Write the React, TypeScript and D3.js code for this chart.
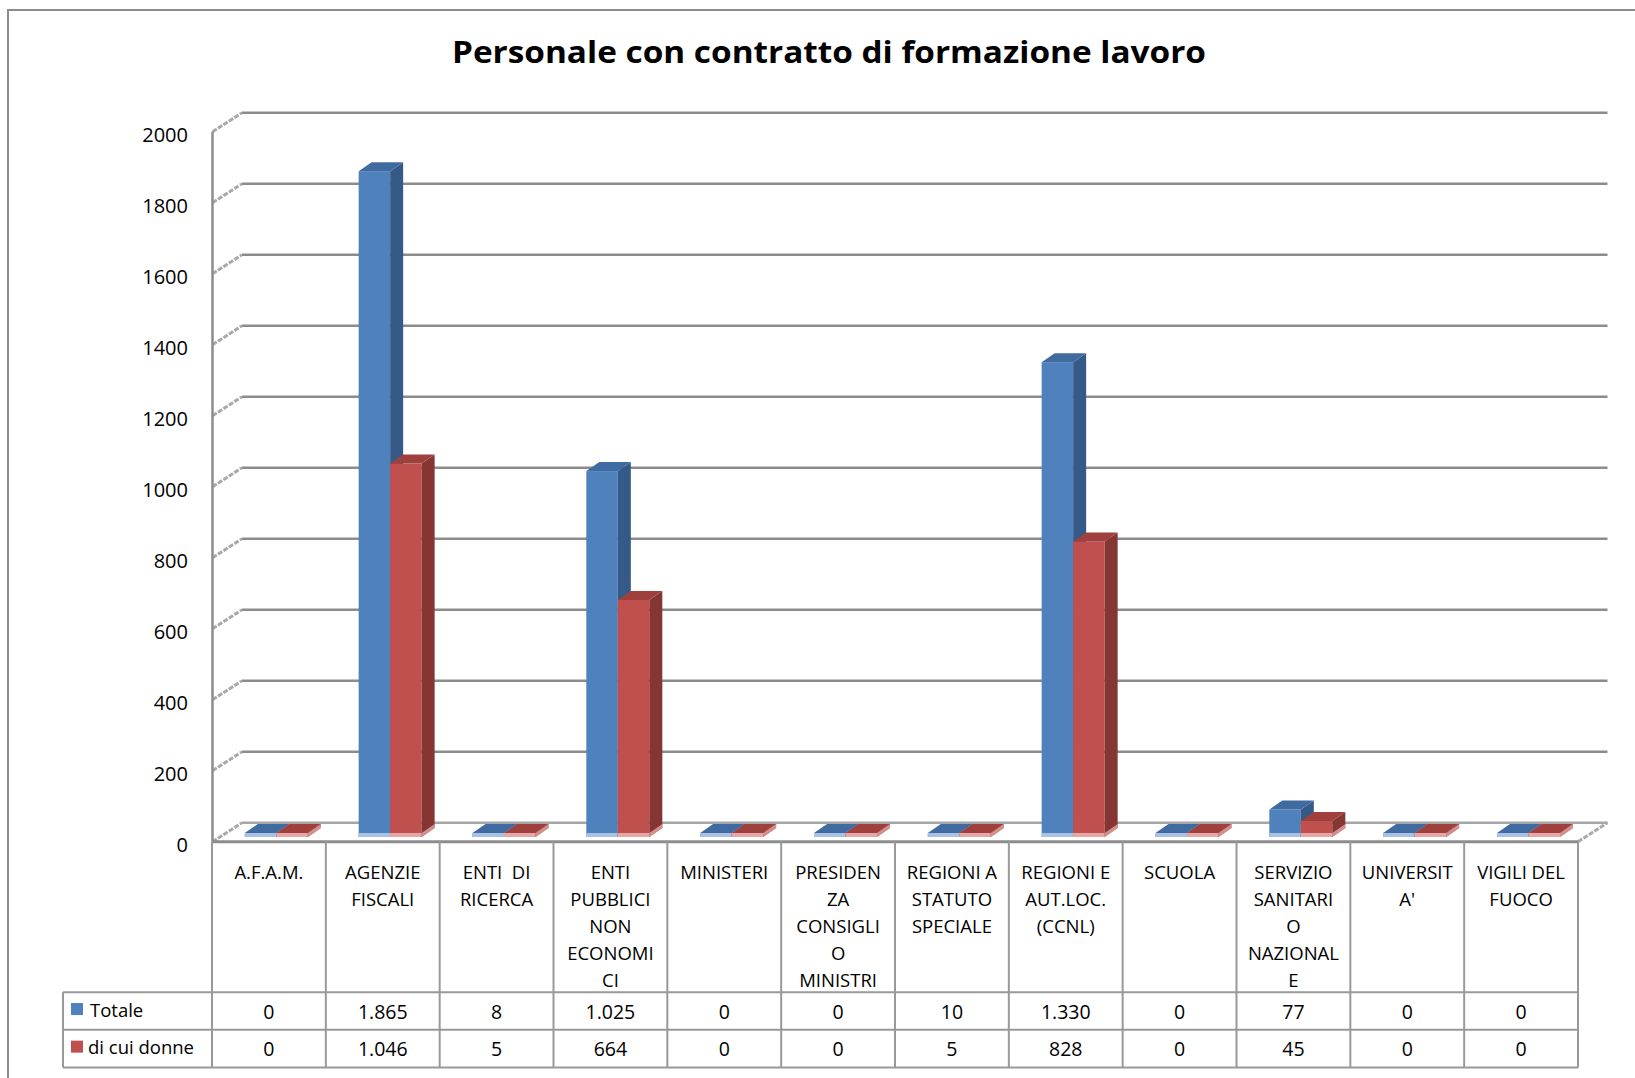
import React, { useEffect, useRef } from 'react'
import * as d3 from 'd3'

const categories = [
  'A.F.A.M.',
  'AGENZIE FISCALI',
  'ENTI DI RICERCA',
  'ENTI PUBBLICI NON ECONOMICI',
  'MINISTERI',
  'PRESIDENZA CONSIGLIO MINISTRI',
  'REGIONI A STATUTO SPECIALE',
  'REGIONI E AUT.LOC. (CCNL)',
  'SCUOLA',
  'SERVIZIO SANITARIO NAZIONALE',
  "UNIVERSITA'",
  'VIGILI DEL FUOCO'
]

// wrapped as in the original table header
const categoryLines = [
  ['A.F.A.M.'],
  ['AGENZIE', 'FISCALI'],
  ['ENTI  DI', 'RICERCA'],
  ['ENTI', 'PUBBLICI', 'NON', 'ECONOMI', 'CI'],
  ['MINISTERI'],
  ['PRESIDEN', 'ZA', 'CONSIGLI', 'O', 'MINISTRI'],
  ['REGIONI A', 'STATUTO', 'SPECIALE'],
  ['REGIONI E', 'AUT.LOC.', '(CCNL)'],
  ['SCUOLA'],
  ['SERVIZIO', 'SANITARI', 'O', 'NAZIONAL', 'E'],
  ['UNIVERSIT', "A'"],
  ['VIGILI DEL', 'FUOCO']
]

const totale = [0, 1865, 8, 1025, 0, 0, 10, 1330, 0, 77, 0, 0]
const donne = [0, 1046, 5, 664, 0, 0, 5, 828, 0, 45, 0, 0]
const seriesNames = ['Totale', 'di cui donne']
const yTicks = [0, 200, 400, 600, 800, 1000, 1200, 1400, 1600, 1800, 2000]

const palette = [
  { front: '#4f81bd', top: '#3f6ba1', side: '#365a87', light: '#a9c2e3' },
  { front: '#c0504d', top: '#a0403d', side: '#853532', light: '#e6a8a6' }
]

const itFormat = d3.formatLocale({ decimal: ',', thousands: '.', grouping: [3], currency: ['€', ''] }).format(',')

const App: React.FC = () => {
  const ref = useRef<SVGSVGElement | null>(null)

  useEffect(() => {
    if (!ref.current) {
      return
    }
    const width = 1635
    const height = 1078
    const svg = d3.select(ref.current)
    svg.attr('viewBox', `0 0 ${width} ${height}`)
    svg.selectAll('*').remove()

    const font = "'Open Sans', sans-serif"
    const gridColor = '#8c8c8c'
    const depth = { dx: 29.5, dy: -19 }
    const barDepth = { dx: 13, dy: -9 }
    const frontShift = 7.4

    const xScale = d3.scaleBand().domain(categories).range([212, 1578])
    const yAxis = d3.scaleLinear().domain([0, 2000]).range([841.7, 131.7])
    const yBar = d3.scaleLinear().domain([0, 2000]).range([837, 123])
    const seriesScale = d3.scaleBand().domain(seriesNames).range([-31.5, 31.5])
    const axisX = xScale.range()[0] + 0.5
    const wallRight = xScale.range()[1] + depth.dx

    // outer border
    svg
      .append('path')
      .attr('d', `M8,${height} L8,10 L${width},10`)
      .attr('fill', 'none')
      .attr('stroke', '#8c8c8c')
      .attr('stroke-width', 2)

    svg
      .append('text')
      .attr('x', 829)
      .attr('y', 63)
      .attr('text-anchor', 'middle')
      .attr('font-family', font)
      .attr('font-weight', 700)
      .attr('font-size', 31)
      .attr('textLength', 754)
      .attr('lengthAdjust', 'spacingAndGlyphs')
      .attr('fill', '#000')
      .text('Personale con contratto di formazione lavoro')

    // back wall gridlines + side wall ticks
    const grid = svg.append('g')
    yTicks.forEach((t) => {
      const y = yAxis(t)
      grid
        .append('line')
        .attr('x1', axisX)
        .attr('y1', y)
        .attr('x2', axisX + depth.dx)
        .attr('y2', y + depth.dy)
        .attr('stroke', '#a9a9a9')
        .attr('stroke-width', 3)
        .attr('stroke-dasharray', '5 1.5')
      grid
        .append('line')
        .attr('x1', axisX + depth.dx)
        .attr('y1', y + depth.dy)
        .attr('x2', wallRight)
        .attr('y2', y + depth.dy)
        .attr('stroke', t === 0 ? '#a6a6a6' : gridColor)
        .attr('stroke-width', 2.5)
      grid
        .append('text')
        .attr('x', 188)
        .attr('y', y + 3)
        .attr('text-anchor', 'end')
        .attr('dominant-baseline', 'central')
        .attr('font-family', font)
        .attr('font-size', 20)
        .attr('fill', '#000')
        .text(t)
    })

    // floor right edge
    const x1 = xScale.range()[1]
    grid
      .append('line')
      .attr('x1', x1)
      .attr('y1', yAxis(0))
      .attr('x2', x1 + depth.dx)
      .attr('y2', yAxis(0) + depth.dy)
      .attr('stroke', '#a9a9a9')
      .attr('stroke-width', 3)
      .attr('stroke-dasharray', '5 1.5')

    // vertical axis
    grid
      .append('line')
      .attr('x1', axisX)
      .attr('y1', yAxis(2000))
      .attr('x2', axisX)
      .attr('y2', yAxis(0))
      .attr('stroke', gridColor)
      .attr('stroke-width', 2.5)

    // bars
    const bars = svg.append('g')
    const seriesValues = [totale, donne]
    categories.forEach((cat, i) => {
      const cx = (xScale(cat) ?? 0) + xScale.bandwidth() / 2 + frontShift
      seriesNames.forEach((name, s) => {
        const v = seriesValues[s][i]
        const c = palette[s]
        const w = seriesScale.bandwidth()
        const bx = cx + (seriesScale(name) ?? 0)
        const base = yBar(0)
        const top = Math.min(yBar(v), base - 4)
        const { dx, dy } = barDepth

        bars
          .append('rect')
          .attr('x', bx)
          .attr('y', top)
          .attr('width', w)
          .attr('height', base - top)
          .attr('fill', c.front)
        bars
          .append('rect')
          .attr('x', bx)
          .attr('y', base - 4)
          .attr('width', w)
          .attr('height', 4)
          .attr('fill', c.light)
        bars
          .append('polygon')
          .attr('points', `${bx + w},${top} ${bx + w + dx},${top + dy} ${bx + w + dx},${base + dy} ${bx + w},${base}`)
          .attr('fill', c.side)
        bars
          .append('polygon')
          .attr('points', `${bx + w},${base - 4} ${bx + w + dx},${base - 4 + dy} ${bx + w + dx},${base + dy} ${bx + w},${base}`)
          .attr('fill', c.light)
          .attr('opacity', 0.8)
        bars
          .append('polygon')
          .attr('points', `${bx},${top} ${bx + dx},${top + dy} ${bx + w + dx},${top + dy} ${bx + w},${top}`)
          .attr('fill', c.top)
      })
    })

    // data table
    const table = svg.append('g')
    const tableColor = '#999'
    const headerTop = yAxis(0)
    const rowTops = [992.3, 1029.8, 1067.5]
    const legendLeft = 63

    table
      .append('line')
      .attr('x1', axisX)
      .attr('y1', headerTop)
      .attr('x2', x1)
      .attr('y2', headerTop)
      .attr('stroke', gridColor)
      .attr('stroke-width', 3)

    rowTops.forEach((y) => {
      table
        .append('line')
        .attr('x1', legendLeft)
        .attr('y1', y)
        .attr('x2', x1)
        .attr('y2', y)
        .attr('stroke', tableColor)
        .attr('stroke-width', 2)
    })

    const colEdges = categories.map((cat) => xScale(cat) ?? 0).concat([x1])
    colEdges.forEach((x) => {
      table
        .append('line')
        .attr('x1', x)
        .attr('y1', headerTop)
        .attr('x2', x)
        .attr('y2', rowTops[2])
        .attr('stroke', tableColor)
        .attr('stroke-width', 2)
    })
    table
      .append('line')
      .attr('x1', legendLeft)
      .attr('y1', rowTops[0])
      .attr('x2', legendLeft)
      .attr('y2', rowTops[2])
      .attr('stroke', tableColor)
      .attr('stroke-width', 2)

    categories.forEach((cat, i) => {
      const cx = (xScale(cat) ?? 0) + xScale.bandwidth() / 2
      categoryLines[i].forEach((line, k) => {
        table
          .append('text')
          .attr('x', cx)
          .attr('y', 871.7 + k * 26.9)
          .attr('text-anchor', 'middle')
          .attr('dominant-baseline', 'central')
          .attr('font-family', font)
          .attr('font-size', 18.5)
          .attr('fill', '#000')
          .style('white-space', 'pre')
          .text(line)
      })
      seriesValues.forEach((vals, s) => {
        table
          .append('text')
          .attr('x', cx)
          .attr('y', (rowTops[s] + rowTops[s + 1]) / 2)
          .attr('text-anchor', 'middle')
          .attr('dominant-baseline', 'central')
          .attr('font-family', font)
          .attr('font-size', 19.5)
          .attr('fill', '#000')
          .text(itFormat(vals[i]))
      })
    })

    // legend keys in the table
    seriesNames.forEach((name, s) => {
      const cy = (rowTops[s] + rowTops[s + 1]) / 2 - 2
      table
        .append('rect')
        .attr('x', 71)
        .attr('y', cy - 6)
        .attr('width', 12)
        .attr('height', 12)
        .attr('fill', palette[s].front)
      table
        .append('text')
        .attr('x', s === 0 ? 90 : 88)
        .attr('y', cy)
        .attr('dominant-baseline', 'central')
        .attr('font-family', font)
        .attr('font-size', 18.5)
        .attr('fill', '#000')
        .text(name)
    })
  }, [])

  return (
    <svg
      ref={ref}
      width={1635}
      height={1078}
      style={{ position: 'absolute', left: 0, top: 0, background: '#fff' }}
      role="img"
      aria-label="Personale con contratto di formazione lavoro"
    />
  )
}

export default App
